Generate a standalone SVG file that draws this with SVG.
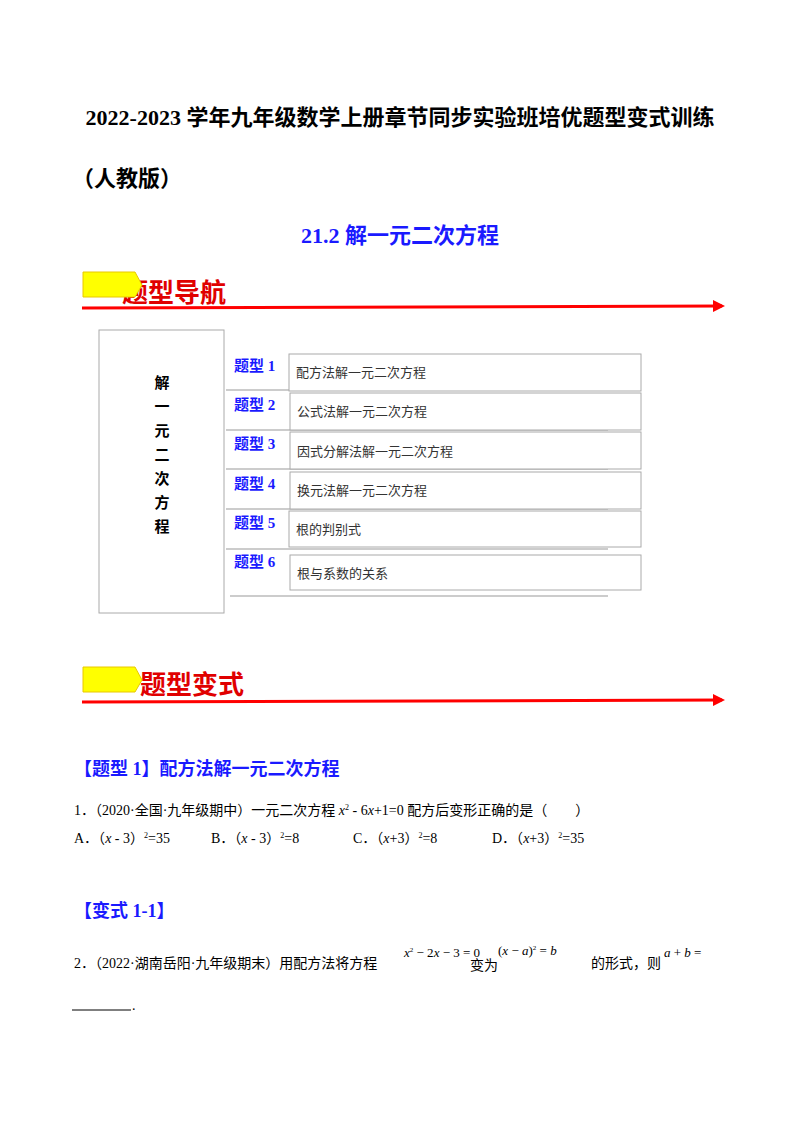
<svg xmlns="http://www.w3.org/2000/svg" width="800" height="1132" viewBox="0 0 800 1132">
<style>
.t{font-family:"Liberation Serif","Noto Sans CJK SC",serif;font-weight:bold;font-size:22px;fill:#000}
.h{font-family:"Noto Sans CJK SC",sans-serif;font-weight:bold;font-size:26px;fill:#e00000}
.lab{font-family:"Liberation Serif","Noto Sans CJK SC",serif;font-weight:bold;font-size:15px;fill:#1a1aff}
.it{font-family:"Noto Sans CJK SC",sans-serif;font-size:13px;fill:#333}
.q{font-family:"Liberation Serif","Noto Sans CJK SC",serif;font-size:14px;fill:#000}
.bl{font-family:"Liberation Serif","Noto Sans CJK SC",serif;font-weight:bold;font-size:18px;fill:#1a1aff}
.box{fill:#fff;stroke:#aaa;stroke-width:1}
.sep{stroke:#bbb;stroke-width:1.5}
.red{stroke:#f00;stroke-width:3}
</style>
<defs><marker id="ar" markerWidth="4" markerHeight="4" refX="3" refY="2" orient="auto" markerUnits="strokeWidth"><path d="M0,0L4,2L0,4z" fill="#f00"/></marker></defs>
<text class="t" x="400" y="125" text-anchor="middle">2022-2023 学年九年级数学上册章节同步实验班培优题型变式训练</text>
<text class="t" x="72" y="186">（人教版）</text>
<text class="t" x="400" y="243" text-anchor="middle" style="fill:#1a1aff">21.2  解一元二次方程</text>
<g id="nav-header">
<text class="h" x="122" y="302">题型导航</text>
<path d="M83,272H135L142,285L135,297H83Z" fill="#ffff00" stroke="#e8c800"/>
</g>
<g id="connectors">
<line class="red" x1="82" y1="308" x2="722" y2="306" marker-end="url(#ar)"/>
<line class="red" x1="82" y1="702" x2="722" y2="700" marker-end="url(#ar)"/>
<g class="sep"><line x1="226" y1="390" x2="608" y2="390"/><line x1="226" y1="430" x2="608" y2="430"/><line x1="226" y1="469" x2="608" y2="469"/><line x1="226" y1="509" x2="608" y2="509"/><line x1="226" y1="549" x2="608" y2="549"/><line x1="230" y1="596" x2="608" y2="596"/></g>
</g>
<g id="root"><rect class="box" x="99" y="330" width="125" height="283"/>
<text class="it" x="162" y="388" text-anchor="middle" style="font-weight:bold;font-size:15px;fill:#000"><tspan x="162">解</tspan><tspan x="162" dy="24">一</tspan><tspan x="162" dy="24">元</tspan><tspan x="162" dy="24">二</tspan><tspan x="162" dy="24">次</tspan><tspan x="162" dy="24">方</tspan><tspan x="162" dy="24">程</tspan></text></g>
<g id="t1"><text class="lab" x="234" y="371">题型 1</text><rect class="box" x="289" y="354" width="352" height="37"/><text class="it" x="296" y="377">配方法解一元二次方程</text></g>
<g id="t2"><text class="lab" x="234" y="410">题型 2</text><rect class="box" x="290" y="393" width="351" height="37"/><text class="it" x="297" y="416">公式法解一元二次方程</text></g>
<g id="t3"><text class="lab" x="234" y="449">题型 3</text><rect class="box" x="290" y="432" width="351" height="37"/><text class="it" x="297" y="456">因式分解法解一元二次方程</text></g>
<g id="t4"><text class="lab" x="234" y="489">题型 4</text><rect class="box" x="290" y="472" width="351" height="37"/><text class="it" x="297" y="495">换元法解一元二次方程</text></g>
<g id="t5"><text class="lab" x="234" y="528">题型 5</text><rect class="box" x="289" y="511" width="352" height="36"/><text class="it" x="296" y="534">根的判别式</text></g>
<g id="t6"><text class="lab" x="234" y="567">题型 6</text><rect class="box" x="290" y="555" width="351" height="35"/><text class="it" x="297" y="578">根与系数的关系</text></g>
<g id="var-header">
<text class="h" x="140" y="694">题型变式</text>
<path d="M83,667H135L142,680L135,692H83Z" fill="#ffff00" stroke="#e8c800"/>
</g>
<text class="bl" x="74" y="775">【题型 1】配方法解一元二次方程</text>
<text class="q" x="74" y="815">1．（2020·全国·九年级期中）一元二次方程 <tspan font-style="italic">x</tspan><tspan dy="-5" font-size="8">2</tspan><tspan dy="5"> - 6</tspan><tspan font-style="italic">x</tspan>+1=0 配方后变形正确的是（　　）</text>
<text class="q" x="74" y="843">A．（<tspan font-style="italic">x</tspan> - 3）<tspan dy="-5" font-size="8">2</tspan><tspan dy="5">=35</tspan></text>
<text class="q" x="211" y="843">B．（<tspan font-style="italic">x</tspan> - 3）<tspan dy="-5" font-size="8">2</tspan><tspan dy="5">=8</tspan></text>
<text class="q" x="353" y="843">C．（<tspan font-style="italic">x</tspan>+3）<tspan dy="-5" font-size="8">2</tspan><tspan dy="5">=8</tspan></text>
<text class="q" x="492" y="843">D．（<tspan font-style="italic">x</tspan>+3）<tspan dy="-5" font-size="8">2</tspan><tspan dy="5">=35</tspan></text>
<text class="bl" x="74" y="917">【变式 1-1】</text>
<text class="q" x="74" y="968">2．（2022·湖南岳阳·九年级期末）用配方法将方程</text>
<text class="q" x="404" y="957" style="font-size:13px"><tspan font-style="italic">x</tspan><tspan dy="-5" font-size="7">2</tspan><tspan dy="5"> − 2</tspan><tspan font-style="italic">x</tspan> − 3 = 0</text>
<text class="q" x="470" y="970">变为</text>
<text class="q" x="498" y="955" style="font-size:13px">(<tspan font-style="italic">x</tspan> − <tspan font-style="italic">a</tspan>)<tspan dy="-5" font-size="7">2</tspan><tspan dy="5"> = </tspan><tspan font-style="italic">b</tspan></text>
<text class="q" x="591" y="968">的形式，则</text>
<text class="q" x="664" y="957" style="font-size:13px"><tspan font-style="italic">a</tspan> + <tspan font-style="italic">b</tspan> =</text>
<line x1="72" y1="1010" x2="131" y2="1010" stroke="#000" stroke-width="1"/>
<text class="q" x="132" y="1010">.</text>
</svg>
